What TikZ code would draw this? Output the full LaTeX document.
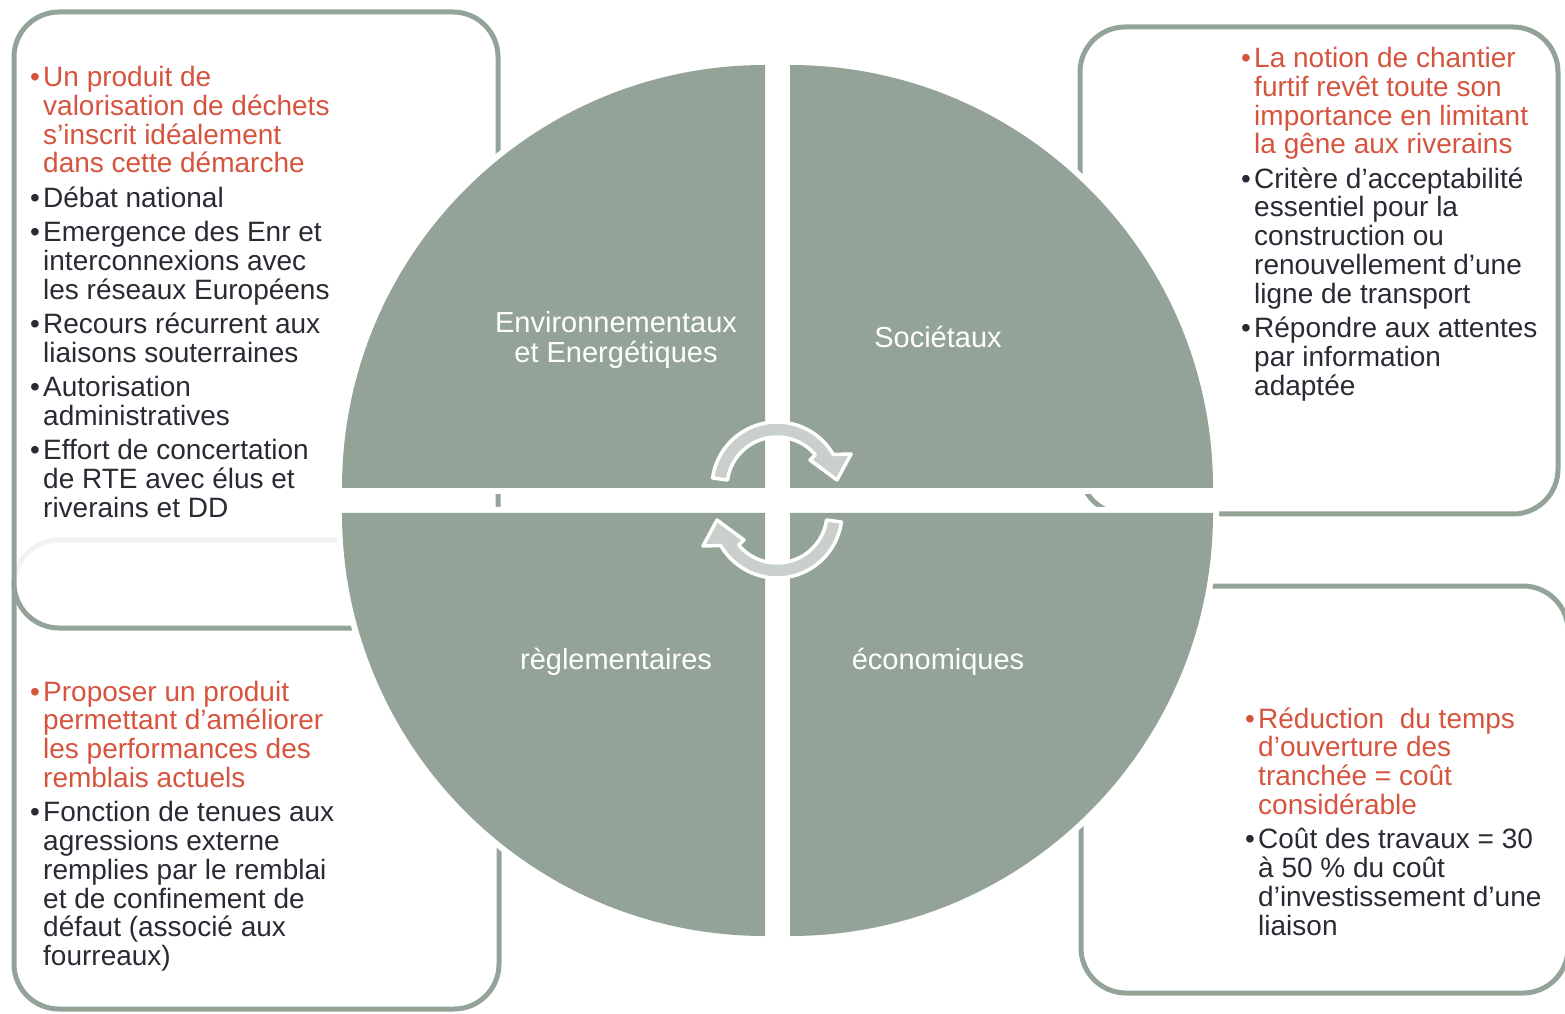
\documentclass[tikz,border=0pt]{standalone}
\usepackage{fontspec}
\setmainfont{Liberation Sans}

\definecolor{quadgrey}{RGB}{147,163,152}
\definecolor{cycgrey}{RGB}{201,208,203}
\definecolor{hotred}{RGB}{214,84,62}
\definecolor{inkdark}{RGB}{42,42,52}

% one bullet point, in its own colour
\newcommand\bitem[2]{\par\hangindent=13pt\hangafter=1\noindent
  {\color{#1}\makebox[13pt][l]{\textbullet}#2\par}}
\newcommand\notes[1]{\parbox[t]{480pt}{\setlength\parskip{5.5pt}#1}}

\def\rad{423}
\def\arcout{65}
\def\arcin{50}

\begin{document}
\begin{tikzpicture}[x=1pt,y=1pt,
  frame/.style={draw=quadgrey, line width=5pt, rounded corners=45pt},
  quad/.style={fill=quadgrey},
  cyc/.style={fill=cycgrey, draw=white, line width=3.5pt, line join=round},
  txt/.style={anchor=base west, inner sep=0pt, font=\fontsize{28}{28.8}\selectfont},
  lab/.style={anchor=base, inner sep=0pt, text=white, font=\fontsize{29}{30}\selectfont}]
 \useasboundingbox (0,0) rectangle (1565,1013);
 % Frames behind the disc
 \draw[frame] (14,4) rectangle (499,473);
 \draw[frame, fill=white, fill opacity=0.88] (14,385) rectangle (498,1001);
 \draw[frame] (1080,499) rectangle (1558,986);
 \draw[frame] (1081,20) rectangle (1568,427);
 % Quarter discs
 \foreach \cx/\cy/\a in {765/525/90, 790/525/0, 765/500/180, 790/500/270}
  \draw[white, line width=12pt] (\cx,\cy) -- ++(\a:\rad)
   arc[start angle=\a, delta angle=90, radius=\rad] -- cycle;
 \foreach \cx/\cy/\a in {765/525/90, 790/525/0, 765/500/180, 790/500/270}
  \fill[quad] (\cx,\cy) -- ++(\a:\rad)
   arc[start angle=\a, delta angle=90, radius=\rad] -- cycle;
 % Cycle arrows
 \begin{scope}[shift={(777,526)}]
  \draw[cyc] (172:\arcout) arc[start angle=172, end angle=30, radius=\arcout]
   -- (74,33) -- (60,7) -- (33,27) -- (40:\arcin)
   arc[start angle=40, end angle=172, radius=\arcin] -- cycle;
 \end{scope}
 \begin{scope}[shift={(777,500)}]
  \draw[cyc] (352:\arcout) arc[start angle=352, end angle=210, radius=\arcout]
   -- (-74,-33) -- (-60,-7) -- (-33,-27) -- (220:\arcin)
   arc[start angle=220, end angle=352, radius=\arcin] -- cycle;
 \end{scope}
 % Quadrant labels
 \node[lab] (envlab) at (616,680)
  {\parbox[t]{300pt}{\centering Environnementaux\\et Energétiques}};
 \node[lab] (soclab) at (938,665) {Sociétaux};
 \node[lab] (reglab) at (616,344) {règlementaires};
 \node[lab] (ecolab) at (938,344) {économiques};
 % Notes in the frames
 \node[txt] (tlnotes) at (30,926.5) {\notes{%
  \bitem{hotred}{Un produit de\\valorisation de déchets\\s’inscrit idéalement\\dans cette démarche}
  \bitem{inkdark}{Débat national}
  \bitem{inkdark}{Emergence des Enr et\\interconnexions avec\\les réseaux Européens}
  \bitem{inkdark}{Recours récurrent aux\\liaisons souterraines}
  \bitem{inkdark}{Autorisation\\administratives}
  \bitem{inkdark}{Effort de concertation\\de RTE avec élus et\\riverains et DD}}};
 \node[txt] (trnotes) at (1241,945.5) {\notes{%
  \bitem{hotred}{La notion de chantier\\furtif revêt toute son\\importance en limitant\\la gêne aux riverains}
  \bitem{inkdark}{Critère d’acceptabilité\\essentiel pour la\\construction ou\\renouvellement d’une\\ligne de transport}
  \bitem{inkdark}{Répondre aux attentes\\par information\\adaptée}}};
 \node[txt] (blnotes) at (30,312) {\notes{%
  \bitem{hotred}{Proposer un produit\\permettant d’améliorer\\les performances des\\remblais actuels}
  \bitem{inkdark}{Fonction de tenues aux\\agressions externe\\remplies par le remblai\\et de confinement de\\défaut (associé aux\\fourreaux)}}};
 \node[txt] (brnotes) at (1245,285) {\notes{%
  \bitem{hotred}{Réduction\ \ du temps\\d’ouverture des\\tranchée = coût\\considérable}
  \bitem{inkdark}{Coût des travaux = 30\\à 50 \% du coût\\d’investissement d’une\\liaison}}};
\end{tikzpicture}
\end{document}
